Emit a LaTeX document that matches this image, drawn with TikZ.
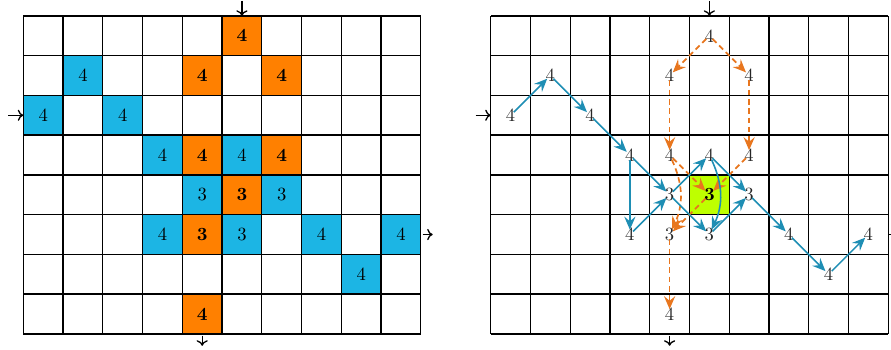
\documentclass[tikz,border=0pt]{standalone}
\usetikzlibrary{arrows.meta}
\definecolor{cellblue}{RGB}{28,181,228}
\definecolor{cellorange}{RGB}{255,128,0}
\definecolor{cellgreen}{RGB}{190,255,0}
\definecolor{pathblue}{RGB}{30,142,180}
\definecolor{pathorange}{RGB}{232,118,30}
\begin{document}
\begin{tikzpicture}[x=0.75cm,y=0.75cm,
  cellbox/.style={minimum size=0.75cm, inner sep=0pt, outer sep=0pt, draw=none},
  bluecell/.style={cellbox, fill=cellblue},
  orangecell/.style={cellbox, fill=cellorange, font=\bfseries},
  greencell/.style={cellbox, fill=cellgreen},
  gridline/.style={line width=0.7pt, black, step=0.75cm},
  num/.style={inner sep=-0.8pt, outer sep=0pt, text=black!85},
  tipstyle/.style={-{Stealth[length=7pt,width=6pt,inset=2.5pt]}},
  bluepath/.style={pathblue, line width=0.85pt, tipstyle},
  orangepath/.style={pathorange, line width=0.9pt, dash pattern=on 3pt off 2pt, tipstyle},
  iodir/.style={line width=0.7pt, -{To[length=3pt,width=6pt]}}
]
\useasboundingbox (-0.587,-0.40) rectangle (21.83,8.40);

% ---------- left grid ----------
\node[orangecell] (L05) at (5.5,7.5) {4};
\node[orangecell] (L14) at (4.5,6.5) {4};
\node[orangecell] (L16) at (6.5,6.5) {4};
\node[orangecell] (L34) at (4.5,4.5) {4};
\node[orangecell] (L36) at (6.5,4.5) {4};
\node[orangecell] (L74) at (4.5,0.5) {4};
\node[orangecell] (L45) at (5.5,3.5) {3};
\node[orangecell] (L54) at (4.5,2.5) {3};
\node[bluecell] (L11) at (1.5,6.5) {4};
\node[bluecell] (L20) at (0.5,5.5) {4};
\node[bluecell] (L22) at (2.5,5.5) {4};
\node[bluecell] (L33) at (3.5,4.5) {4};
\node[bluecell] (L35) at (5.5,4.5) {4};
\node[bluecell] (L53) at (3.5,2.5) {4};
\node[bluecell] (L57) at (7.5,2.5) {4};
\node[bluecell] (L59) at (9.5,2.5) {4};
\node[bluecell] (L68) at (8.5,1.5) {4};
\node[bluecell] (L44) at (4.5,3.5) {3};
\node[bluecell] (L46) at (6.5,3.5) {3};
\node[bluecell] (L55) at (5.5,2.5) {3};
\draw[gridline] (0,0) grid (10,8);

\coordinate (LinT) at (5.5,8.38);
\coordinate (LinL) at (-0.38,5.5);
\coordinate (LoutR) at (10.3,2.5);
\coordinate (LoutB) at (4.5,-0.3);
\draw[iodir] (LinT) -- (L05.north);
\draw[iodir] (LinL) -- (L20.west);
\draw[iodir, shorten <=1pt] (L59.east) -- (LoutR);
\draw[iodir, shorten <=1pt] (L74.south) -- (LoutB);

% ---------- right grid ----------
\node[greencell] (Rg) at (17.26,3.5) {};
\begin{scope}[shift={(11.76,0)}]
\draw[gridline] (0,0) grid (10,8);
\end{scope}

\node[num] (R20) at (12.26,5.5) {4};
\node[num] (R11) at (13.26,6.5) {4};
\node[num] (R22) at (14.26,5.5) {4};
\node[num] (R33) at (15.26,4.5) {4};
\node[num] (R44) at (16.26,3.5) {3};
\node[num] (R53) at (15.26,2.5) {4};
\node[num] (R35) at (17.26,4.5) {4};
\node[num] (R55) at (17.26,2.5) {3};
\node[num] (R46) at (18.26,3.5) {3};
\node[num] (R57) at (19.26,2.5) {4};
\node[num] (R68) at (20.26,1.5) {4};
\node[num] (R59) at (21.26,2.5) {4};
\node[num] (R05) at (17.26,7.5) {4};
\node[num] (R14) at (16.26,6.5) {4};
\node[num] (R16) at (18.26,6.5) {4};
\node[num] (R34) at (16.26,4.5) {4};
\node[num] (R36) at (18.26,4.5) {4};
\node[num, font=\bfseries, text=black] (R45) at (17.26,3.5) {3};
\node[num] (R54) at (16.26,2.5) {3};
\node[num] (R74) at (16.26,0.5) {4};

% orange dashed paths
\draw[orangepath] (R05) -- (R14);
\draw[orangepath] (R05) -- (R16);
\draw[orangepath] (R14) -- (R34);
\draw[orangepath] (R16) -- (R36);
\draw[orangepath] (R34) -- (R45);
\draw[orangepath] (R36) -- (R45);
\draw[orangepath] (R34) to[bend left=25] (R54);
\draw[orangepath] (R45) -- (R54);
\draw[orangepath] (R54) -- (R74);

% blue paths
\draw[bluepath] (R20) -- (R11);
\draw[bluepath] (R11) -- (R22);
\draw[bluepath] (R22) -- (R33);
\draw[bluepath] (R33) -- (R44);
\draw[bluepath] (R33) -- (R53);
\draw[bluepath] (R53) -- (R44);
\draw[bluepath] (R44) -- (R35);
\draw[bluepath] (R44) -- (R55);
\draw[bluepath] (R35) to[bend left=25] (R55);
\draw[bluepath] (R35) -- (R46);
\draw[bluepath] (R55) -- (R46);
\draw[bluepath] (R46) -- (R57);
\draw[bluepath] (R57) -- (R68);
\draw[bluepath] (R68) -- (R59);

% io arrows right grid
\coordinate (RgT) at (17.26,8);
\coordinate (RinT) at (17.26,8.38);
\coordinate (RgL) at (11.76,5.5);
\coordinate (RinL) at (11.38,5.5);
\coordinate (RgB) at (16.26,0);
\coordinate (RoutB) at (16.26,-0.3);
\coordinate (RgR) at (21.79,2.5);
\coordinate (RoutR) at (22.06,2.5);
\draw[iodir] (RinT) -- (RgT);
\draw[iodir] (RinL) -- (RgL);
\draw[iodir, shorten <=1pt] (RgB) -- (RoutB);
\draw[iodir] (RgR) -- (RoutR);
\end{tikzpicture}
\end{document}
